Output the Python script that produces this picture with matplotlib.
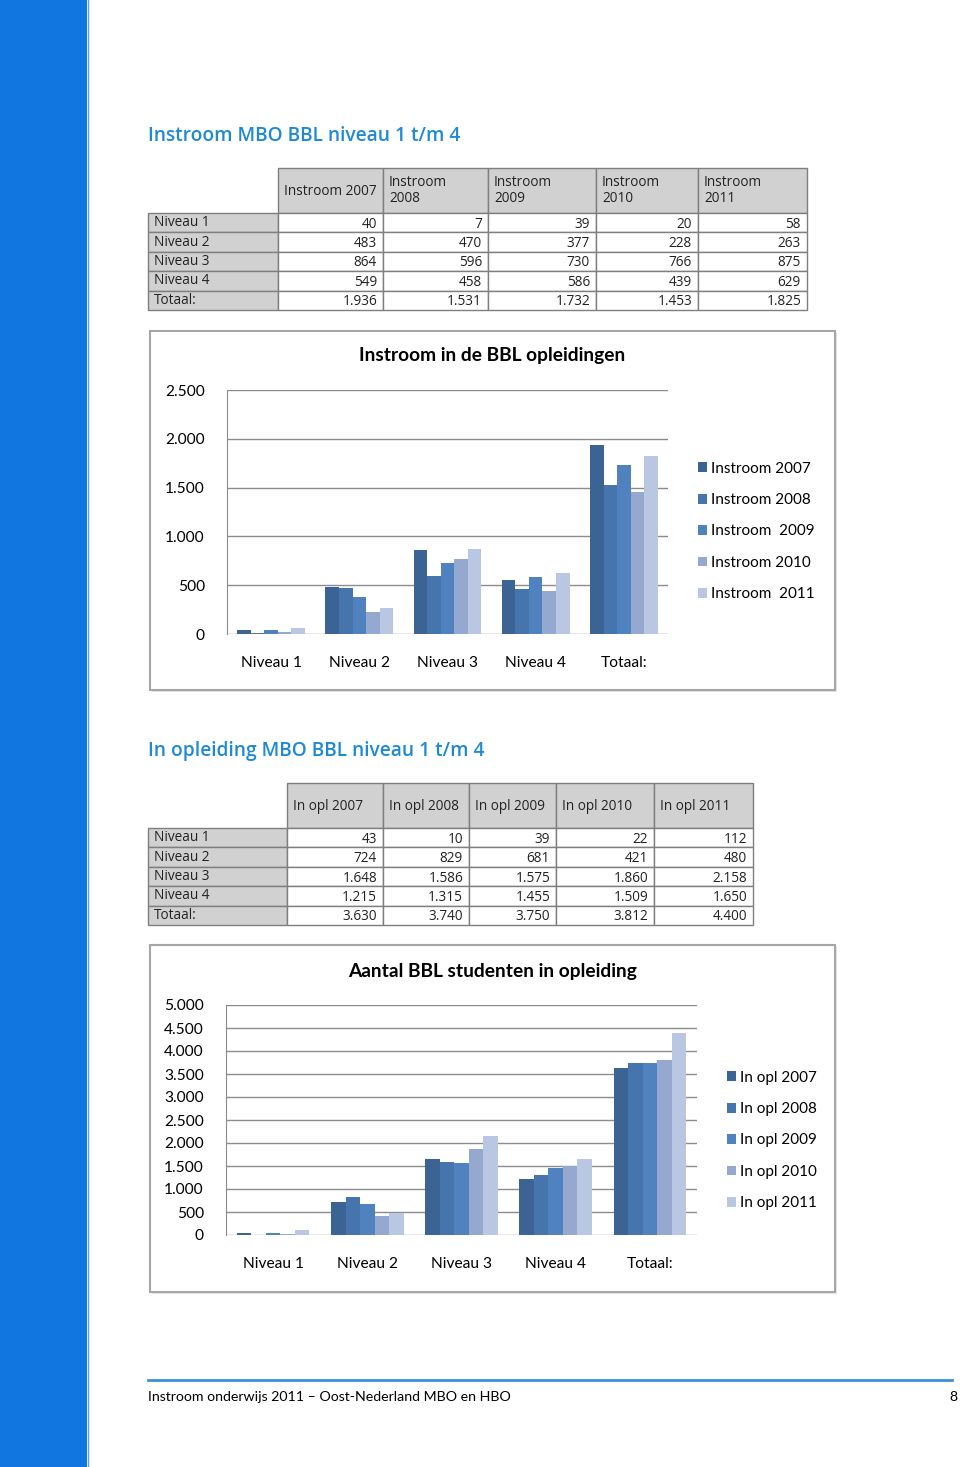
import numpy as np
import matplotlib.pyplot as plt
from matplotlib.patches import Rectangle, Patch

W, H = 960, 1467

# data
niveaus = ["Niveau 1", "Niveau 2", "Niveau 3", "Niveau 4", "Totaal:"]
jaren = ["2007", "2008", "2009", "2010", "2011"]

instroom_2007 = [40, 483, 864, 549, 1936]
instroom_2008 = [7, 470, 596, 458, 1531]
instroom_2009 = [39, 377, 730, 586, 1732]
instroom_2010 = [20, 228, 766, 439, 1453]
instroom_2011 = [58, 263, 875, 629, 1825]
instroom = [instroom_2007, instroom_2008, instroom_2009, instroom_2010, instroom_2011]
instroom_legend = ["Instroom 2007", "Instroom 2008", "Instroom  2009", "Instroom 2010", "Instroom  2011"]

opl_2007 = [43, 724, 1648, 1215, 3630]
opl_2008 = [10, 829, 1586, 1315, 3740]
opl_2009 = [39, 681, 1575, 1455, 3750]
opl_2010 = [22, 421, 1860, 1509, 3812]
opl_2011 = [112, 480, 2158, 1650, 4400]
opl = [opl_2007, opl_2008, opl_2009, opl_2010, opl_2011]
opl_legend = ["In opl 2007", "In opl 2008", "In opl 2009", "In opl 2010", "In opl 2011"]

colors = ["#3b6394", "#4675ad", "#4f82be", "#95a9d0", "#b9c7e2"]
TITLE_BLUE = "#1e8ad6"
TFONT = "Open Sans"
CFONT = "Lato"


def fmt(v):
    # Dutch thousands separator
    return f"{v:,}".replace(",", ".")


def box(l, t, r, b):
    return [l / W, 1 - b / H, (r - l) / W, (b - t) / H]


fig = plt.figure(figsize=(W / 100, H / 100), dpi=100)
fig.patch.set_facecolor("white")

# page layer in pixel coordinates
pg = fig.add_axes([0, 0, 1, 1])
pg.set_xlim(0, W)
pg.set_ylim(H, 0)
pg.axis("off")

# blue side bar
pg.add_patch(Rectangle((0, 0), 87, H, facecolor="#1276e0", edgecolor="none"))
pg.plot([87.5, 87.5], [0, H], color="#5aa3ec", lw=1)


def draw_table(x_edges, y_head, row_h, headers, two_line, data, title, title_y):
    pg.text(148, title_y, title, fontsize=13.8, color=TITLE_BLUE, family=TFONT,
            fontweight="semibold", va="center", ha="left")
    top, bot = y_head
    border = "#7f7f7f"
    # header cells
    for j in range(1, len(x_edges) - 1):
        pg.add_patch(Rectangle((x_edges[j], top), x_edges[j + 1] - x_edges[j], bot - top,
                               facecolor="#d1d1d1", edgecolor=border, lw=1))
        hx = x_edges[j] + 6
        if two_line[j - 1]:
            a, b = headers[j - 1].split(" ")
            pg.text(hx, top + 15, a, fontsize=9.8, family=TFONT, va="center", color="#222222")
            pg.text(hx, top + 31, b, fontsize=9.8, family=TFONT, va="center", color="#222222")
        else:
            pg.text(hx, (top + bot) / 2 + 1, headers[j - 1], fontsize=9.8, family=TFONT,
                    va="center", color="#222222")
    # body rows
    for i, name in enumerate(niveaus):
        y0 = bot + i * row_h
        pg.add_patch(Rectangle((x_edges[0], y0), x_edges[1] - x_edges[0], row_h,
                               facecolor="#d1d1d1", edgecolor=border, lw=1))
        pg.text(x_edges[0] + 6, y0 + row_h / 2, name, fontsize=9.8, family=TFONT,
                va="center", color="#222222")
        for j, col in enumerate(data):
            pg.add_patch(Rectangle((x_edges[j + 1], y0), x_edges[j + 2] - x_edges[j + 1], row_h,
                                   facecolor="white", edgecolor=border, lw=1))
            pg.text(x_edges[j + 2] - 6, y0 + row_h / 2 + 1.5, fmt(col[i]), fontsize=9.8,
                    family=TFONT, va="center", ha="right", color="#222222")


draw_table([148, 278, 383, 488, 596, 698, 807], (168, 213), 19.4,
           ["Instroom " + y for y in jaren], [False, True, True, True, True],
           instroom, "Instroom MBO BBL niveau 1 t/m 4", 136)

draw_table([148, 287, 383, 469, 556, 654, 753], (783, 828), 19.4,
           opl_legend, [False] * 5,
           opl, "In opleiding MBO BBL niveau 1 t/m 4", 751)


def draw_chart(frame, axbox, ymax, step, series, labels, title, title_y, leg_xy):
    l, t, r, b = frame
    pg.add_patch(Rectangle((l + 2, t + 2), r - l, b - t, facecolor="#e6e6e6", edgecolor="none"))
    pg.add_patch(Rectangle((l, t), r - l, b - t, facecolor="white", edgecolor="#a6a6a6", lw=1.5))
    pg.text((l + r) / 2, title_y, title, fontsize=13.8, fontweight="bold",
            family=CFONT, ha="center", va="center", color="black")

    ax = fig.add_axes(box(*axbox))
    x = np.arange(len(niveaus))
    w = 1 / 6.5
    for k, vals in enumerate(series):
        ax.bar(x + (k - 2) * w, vals, width=w, color=colors[k], label=labels[k], zorder=3)
    ax.set_xlim(-0.5, len(niveaus) - 0.5)
    ax.set_ylim(0, ymax)
    ax.set_yticks(np.arange(0, ymax + 1, step))
    ax.set_yticklabels([fmt(int(v)) for v in np.arange(0, ymax + 1, step)])
    ax.set_xticks(x)
    ax.set_xticklabels(niveaus)
    ax.yaxis.grid(True, color="#8c8c8c", lw=1)
    ax.set_axisbelow(True)
    for s in ["top", "right", "bottom"]:
        ax.spines[s].set_visible(False)
    ax.spines["left"].set_color("#8c8c8c")
    ax.tick_params(axis="y", length=0, pad=16, labelsize=11.2)
    ax.tick_params(axis="x", length=0, pad=16, labelsize=11.2)
    for lab in ax.get_xticklabels() + ax.get_yticklabels():
        lab.set_family(CFONT)
    handles = [Patch(facecolor=c) for c in colors]
    fig.legend(handles, labels, loc="upper left",
               bbox_to_anchor=(leg_xy[0] / W, 1 - leg_xy[1] / H),
               frameon=False, borderpad=0, handlelength=0.6, handleheight=0.6,
               handletextpad=0.3, labelspacing=1.14, prop={"family": CFONT, "size": 11})
    return ax


draw_chart((150, 331, 835, 690), (227, 390, 668, 634), 2500, 500, instroom,
           instroom_legend, "Instroom in de BBL opleidingen", 356, (690, 454))

draw_chart((150, 945, 835, 1292), (226, 1005, 697, 1235), 5000, 500, opl,
           opl_legend, "Aantal BBL studenten in opleiding", 971, (719, 1063))

# footer
pg.plot([148, 952], [1380, 1380], color="#3b8fd9", lw=2)
pg.text(148, 1397, "Instroom onderwijs 2011 \u2013 Oost-Nederland MBO en HBO", fontsize=10.2,
        family=CFONT, va="center", ha="left", color="black")
pg.text(957, 1397, "8", fontsize=10.2, family=CFONT, va="center", ha="right", color="black")

fig.savefig("out.png", dpi=100)
